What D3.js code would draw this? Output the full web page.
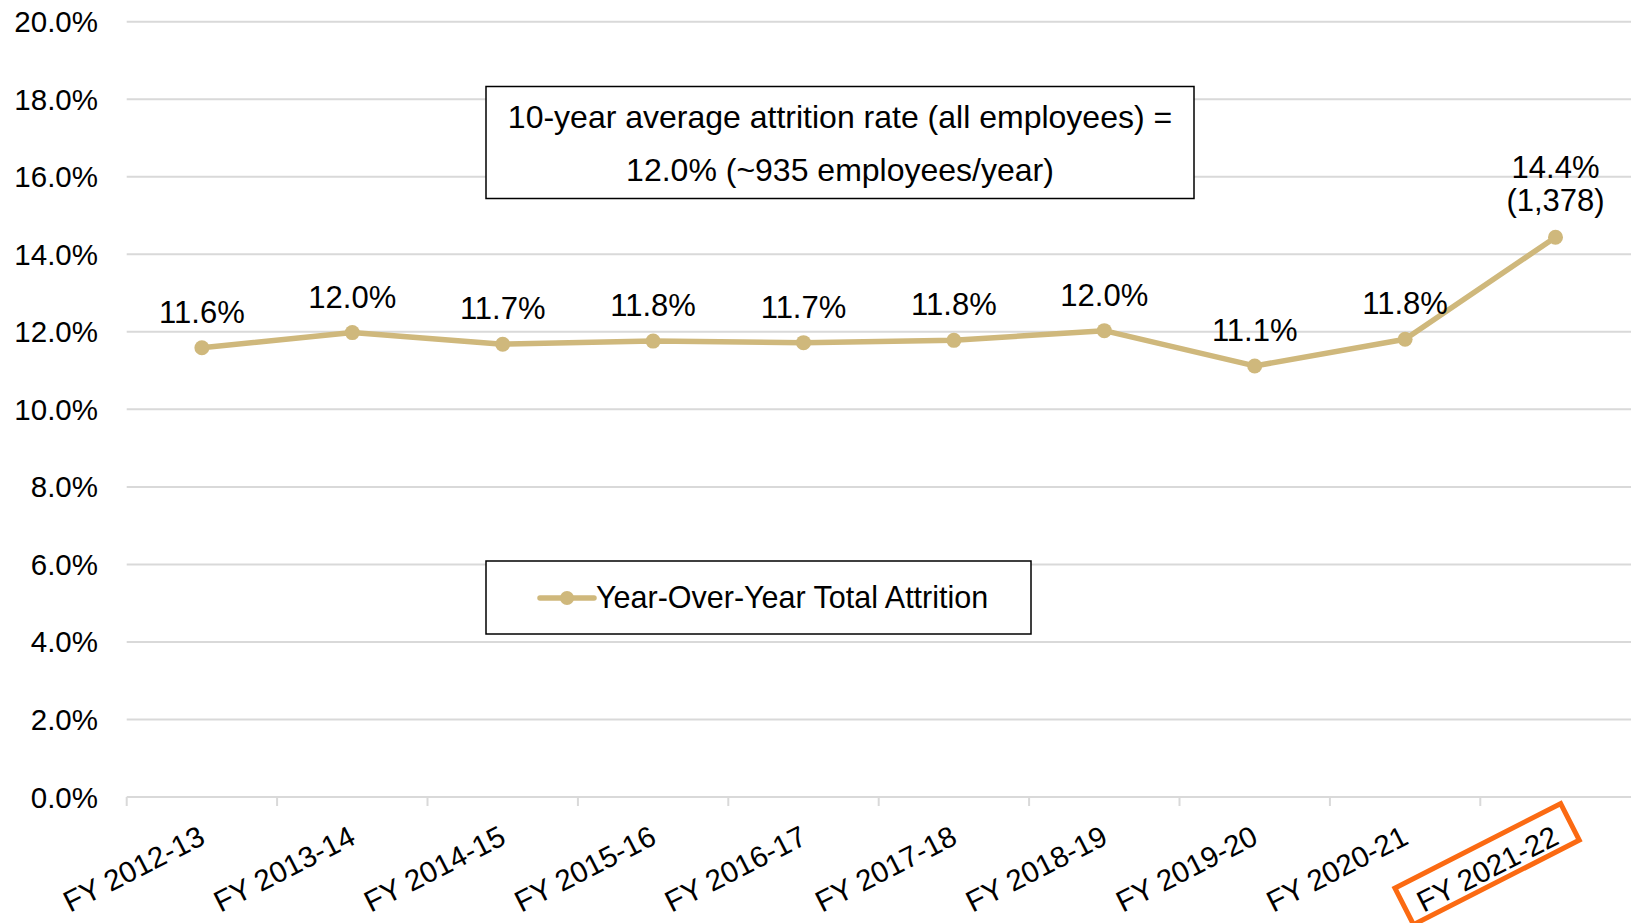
<!DOCTYPE html>
<html>
<head>
<meta charset="utf-8">
<script src="https://cdn.jsdelivr.net/npm/d3@7"></script>
<style>
    body { margin: 0; background: #fff; }
    text { font-family: "Liberation Sans", Arial, Helvetica, sans-serif; fill: #000; }
</style>
</head>
<body>
<div id="vis"></div>
<script>

let categories = ['FY 2012-13', 'FY 2013-14', 'FY 2014-15', 'FY 2015-16', 'FY 2016-17',
    'FY 2017-18', 'FY 2018-19', 'FY 2019-20', 'FY 2020-21', 'FY 2021-22'];
let attrition = [11.59, 11.98, 11.68, 11.76, 11.72, 11.78, 12.03, 11.12, 11.81, 14.44];
let headcount = [null, null, null, null, null, null, null, null, null, 1378];
let yTicks = [0, 2, 4, 6, 8, 10, 12, 14, 16, 18, 20];
let seriesName = 'Year-Over-Year Total Attrition';
let noteLines = ['10-year average attrition rate (all employees) =', '12.0% (~935 employees/year)'];
let highlighted = 'FY 2021-22';

let width = 1631,
    height = 923;

let margin = {top: 21.7, right: 0.3, bottom: 126, left: 126.7};

let gold = '#cfb87c',
    grid = '#d9d9d9';

let svg = d3.select('#vis')
    .append('svg')
    .attr('width', width)
    .attr('height', height);

// Scales
let xScale = d3.scaleBand()
    .domain(categories)
    .range([margin.left, width - margin.right]);

let yScale = d3.scaleLinear()
    .domain([0, 20])
    .range([height - margin.bottom, margin.top]);

let fmt = d3.format('.1f'),
    fmtCount = d3.format(',');

// Gridlines + y labels
svg.selectAll('line.grid')
    .data(yTicks)
    .enter()
    .append('line')
    .attr('class', 'grid')
    .attr('x1', margin.left)
    .attr('x2', width)
    .attr('y1', d => yScale(d))
    .attr('y2', d => yScale(d))
    .attr('stroke', grid)
    .attr('stroke-width', 2);

svg.selectAll('text.ylabel')
    .data(yTicks)
    .enter()
    .append('text')
    .attr('class', 'ylabel')
    .attr('x', 98)
    .attr('y', d => yScale(d) + 10.5)
    .attr('text-anchor', 'end')
    .style('font-size', '29.5px')
    .text(d => fmt(d) + '%');

// x ticks at category boundaries
let bounds = categories.map(c => xScale(c));
svg.selectAll('line.xtick')
    .data(bounds)
    .enter()
    .append('line')
    .attr('class', 'xtick')
    .attr('x1', d => d)
    .attr('x2', d => d)
    .attr('y1', yScale(0))
    .attr('y2', yScale(0) + 9)
    .attr('stroke', grid)
    .attr('stroke-width', 2);

// rotated category labels
let xLabels = svg.selectAll('g.xlabel')
    .data(categories)
    .enter()
    .append('g')
    .attr('class', 'xlabel')
    .attr('transform', function(d) {
        let cx = xScale(d) + xScale.bandwidth() / 2;
        return 'translate(' + (cx + 5) + ',' + (yScale(0) + 46) + ') rotate(-27)';
    });

xLabels.append('text')
    .attr('text-anchor', 'end')
    .style('font-size', '29.5px')
    .text(d => d);

xLabels.filter(d => d === highlighted)
    .append('rect')
    .attr('x', -168)
    .attr('y', -35)
    .attr('width', 186)
    .attr('height', 41)
    .attr('fill', 'none')
    .attr('stroke', '#fb6a12')
    .attr('stroke-width', 5);

// Line
let points = categories.map((c, i) => ({cat: c, value: attrition[i], count: headcount[i]}));

let line = d3.line()
    .x(d => xScale(d.cat) + xScale.bandwidth() / 2)
    .y(d => yScale(d.value));

svg.append('path')
    .datum(points)
    .attr('d', line)
    .attr('fill', 'none')
    .attr('stroke', gold)
    .attr('stroke-width', 5.5)
    .attr('stroke-linejoin', 'round');

svg.selectAll('circle.pt')
    .data(points)
    .enter()
    .append('circle')
    .attr('class', 'pt')
    .attr('cx', d => xScale(d.cat) + xScale.bandwidth() / 2)
    .attr('cy', d => yScale(d.value))
    .attr('r', 7.5)
    .attr('fill', gold);

// data labels
let labels = svg.selectAll('text.dlabel')
    .data(points)
    .enter()
    .append('text')
    .attr('class', 'dlabel')
    .attr('text-anchor', 'middle')
    .attr('x', d => xScale(d.cat) + xScale.bandwidth() / 2)
    .attr('y', d => yScale(d.value) - (d.count ? 59 : 25))
    .style('font-size', '31px')
    .text(d => fmt(d.value) + '%');

labels.filter(d => d.count)
    .append('tspan')
    .attr('x', d => xScale(d.cat) + xScale.bandwidth() / 2)
    .attr('dy', 33)
    .text(d => '(' + fmtCount(d.count) + ')');

// note box
let note = svg.append('g')
    .attr('transform', 'translate(486,86.5)');

note.append('rect')
    .attr('width', 708)
    .attr('height', 112)
    .attr('fill', '#fff')
    .attr('stroke', '#000')
    .attr('stroke-width', 1.5);

note.selectAll('text')
    .data(noteLines)
    .enter()
    .append('text')
    .attr('x', 354)
    .attr('y', (d, i) => 41 + i * 53)
    .attr('text-anchor', 'middle')
    .style('font-size', '32px')
    .text(d => d);

// legend
let legend = svg.append('g')
    .attr('transform', 'translate(486,561)');

legend.append('rect')
    .attr('width', 545)
    .attr('height', 73)
    .attr('fill', '#fff')
    .attr('stroke', '#000')
    .attr('stroke-width', 1.5);

legend.append('line')
    .attr('x1', 54)
    .attr('x2', 108)
    .attr('y1', 37)
    .attr('y2', 37)
    .attr('stroke', gold)
    .attr('stroke-width', 5.5)
    .attr('stroke-linecap', 'round');

legend.append('circle')
    .attr('cx', 81)
    .attr('cy', 37)
    .attr('r', 7)
    .attr('fill', gold);

legend.append('text')
    .attr('x', 110)
    .attr('y', 47)
    .style('font-size', '30.5px')
    .text(seriesName);

</script>
</body>
</html>
